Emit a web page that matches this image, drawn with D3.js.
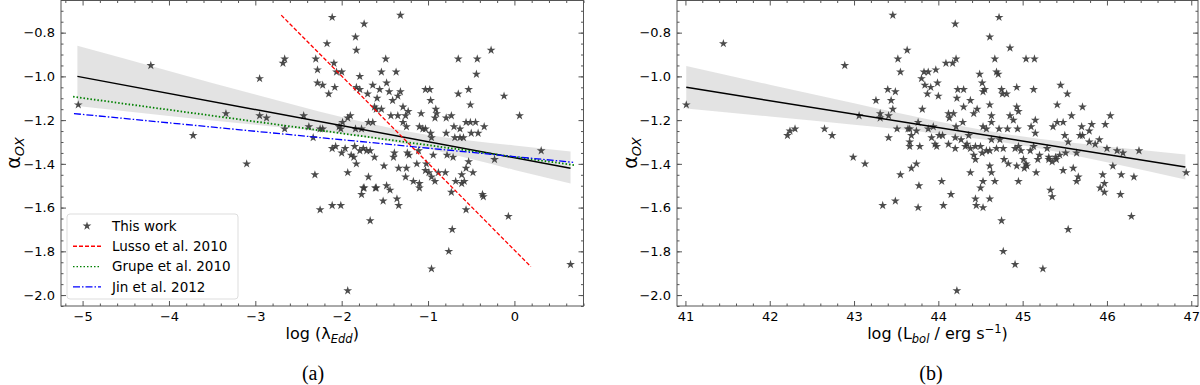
<!DOCTYPE html>
<html>
<head>
<meta charset="utf-8">
<script src="https://cdn.jsdelivr.net/npm/d3@7"></script>
<style>
  body { margin: 0; background: #fff; }
  svg { font-family: "DejaVu Sans", sans-serif; }
</style>
</head>
<body>
<script>
// ---- data ----
// panel (a): log(lambda_Edd) vs alpha_ox
var eddPts = [
  [-5.05,-1.13],[-4.21,-0.95],[-3.72,-1.27],[-3.34,-1.17],[-3.10,-1.40],[-2.95,-1.01],[-2.95,-1.18],[-2.87,-1.19],
  [-2.68,-0.94],[-2.66,-0.92],[-2.66,-1.24],[-2.11,-0.73],[-1.74,-0.76],[-1.32,-0.72],[-1.84,-0.82],[-2.17,-0.85],
  [-1.83,-0.88],[-0.27,-0.88],[-2.30,-0.92],[-2.09,-0.94],[-1.49,-0.92],[-0.65,-0.92],[-0.43,-0.92],[-2.28,-0.97],
  [-2.06,-0.98],[-2.00,-0.98],[-1.54,-0.98],[-1.37,-0.98],[-0.44,-0.99],[-1.79,-1.00],[-2.28,-1.03],[-2.22,-1.04],
  [-2.15,-1.08],[-2.08,-1.05],[-1.83,-1.05],[-1.79,-1.06],[-1.64,-1.04],[-1.70,-1.08],[-1.48,-1.03],[-1.56,-1.06],
  [-1.45,-1.07],[-1.32,-1.07],[-1.03,-1.06],[-0.98,-1.06],[-0.65,-1.08],[-0.53,-1.06],[-0.12,-1.09],[-0.97,-1.11],
  [-1.59,-1.10],[-1.41,-1.11],[-1.35,-1.09],[-0.51,-1.13],[0.06,-1.18],[-1.62,-1.14],[-1.60,-1.15],[-1.54,-1.15],
  [-1.43,-1.18],[-1.35,-1.18],[-1.29,-1.14],[-1.23,-1.16],[-1.26,-1.18],[-1.08,-1.17],[-0.91,-1.15],[-0.90,-1.17],
  [-0.92,-1.19],[-0.79,-1.19],[-0.73,-1.18],[-1.90,-1.18],[-1.93,-1.19],[-2.44,-1.18],[-1.99,-1.21],[-1.69,-1.21],
  [-1.64,-1.21],[-1.29,-1.21],[-1.25,-1.23],[-1.10,-1.23],[-1.06,-1.24],[-1.03,-1.24],[-0.56,-1.21],[-0.45,-1.21],
  [-0.35,-1.23],[-0.70,-1.23],[-0.63,-1.24],[-0.51,-1.21],[-0.50,-1.26],[-0.42,-1.26],[-0.79,-1.26],[-0.69,-1.28],
  [-0.63,-1.28],[-0.59,-1.28],[-0.97,-1.26],[-0.96,-1.28],[-2.38,-1.23],[-2.25,-1.24],[-2.22,-1.24],[-2.33,-1.28],
  [-2.03,-1.23],[-2.01,-1.24],[-1.84,-1.24],[-1.77,-1.24],[-2.11,-1.33],[-2.07,-1.32],[-2.00,-1.35],[-1.89,-1.36],
  [-1.86,-1.37],[-1.96,-1.33],[-1.85,-1.32],[-1.79,-1.34],[-1.75,-1.33],[-1.71,-1.34],[-1.67,-1.34],[-1.62,-1.37],
  [-1.83,-1.40],[-1.93,-1.44],[-2.31,-1.45],[-1.51,-1.41],[-1.40,-1.37],[-1.39,-1.35],[-1.34,-1.42],[-1.25,-1.42],
  [-1.26,-1.46],[-1.17,-1.48],[-1.10,-1.49],[-1.24,-1.35],[-1.22,-1.36],[-1.11,-1.34],[-1.13,-1.40],[-1.02,-1.40],
  [-1.03,-1.43],[-0.99,-1.44],[-0.96,-1.46],[-0.92,-1.48],[-0.88,-1.44],[-0.80,-1.44],[-0.94,-1.36],[-0.78,-1.36],
  [-0.71,-1.37],[-0.68,-1.48],[-0.61,-1.45],[-0.58,-1.48],[-0.56,-1.42],[-0.53,-1.39],[-0.48,-1.44],[-0.73,-1.53],
  [-0.37,-1.54],[-0.36,-1.55],[-0.23,-1.38],[0.31,-1.34],[-1.75,-1.51],[-1.77,-1.54],[-1.69,-1.46],[-1.60,-1.51],
  [-1.48,-1.50],[-1.44,-1.52],[-1.36,-1.56],[-2.25,-1.61],[-2.11,-1.59],[-2.01,-1.59],[-1.74,-1.51],[-1.61,-1.51],
  [-1.52,-1.57],[-1.34,-1.59],[-1.67,-1.66],[-1.10,-1.51],[-0.61,-1.49],[-0.56,-1.61],[-0.72,-1.70],[-0.76,-1.80],
  [-0.96,-1.88],[-1.93,-1.98],[-0.07,-1.64],[0.65,-1.86]
];
// panel (b): log(L_bol) vs alpha_ox
var lbolPts = [
  [41.01,-1.13],[41.45,-0.85],[42.89,-0.95],[42.21,-1.27],[42.24,-1.25],[42.30,-1.24],[42.65,-1.24],[42.74,-1.27],
  [42.99,-1.37],[43.13,-1.40],[43.06,-1.18],[43.26,-1.11],[43.31,-1.17],[43.31,-1.19],[43.41,-1.18],[43.40,-1.06],
  [43.44,-1.11],[43.49,-1.07],[43.46,-1.15],[43.46,-0.72],[43.52,-0.92],[43.55,-0.98],[43.63,-0.88],[43.51,-1.24],
  [43.41,-1.28],[43.55,-1.45],[43.64,-1.24],[43.34,-1.59],[43.49,-1.57],[44.20,-0.76],[44.72,-0.73],[44.61,-0.82],
  [44.85,-0.87],[45.04,-0.92],[45.14,-0.92],[44.67,-0.92],[44.09,-0.94],[44.17,-0.94],[44.21,-0.92],[43.97,-0.97],
  [43.83,-0.98],[43.88,-0.98],[44.49,-0.99],[44.69,-0.98],[44.71,-0.99],[43.80,-1.01],[43.99,-1.03],[43.84,-1.04],
  [43.91,-1.05],[43.87,-1.08],[44.00,-1.09],[44.23,-1.06],[44.30,-1.06],[44.52,-1.03],[44.55,-1.06],[44.53,-1.07],
  [44.75,-1.06],[44.76,-1.08],[44.81,-1.08],[44.93,-1.05],[45.13,-1.06],[45.45,-1.04],[45.53,-1.08],[45.71,-1.14],
  [45.41,-1.13],[45.58,-1.18],[46.04,-1.18],[44.22,-1.10],[44.38,-1.11],[44.30,-1.14],[44.46,-1.15],[44.42,-1.17],
  [44.61,-1.13],[43.81,-1.15],[44.12,-1.17],[44.18,-1.17],[44.13,-1.19],[44.63,-1.18],[44.85,-1.18],[44.93,-1.14],
  [44.95,-1.16],[44.89,-1.20],[45.15,-1.20],[43.76,-1.21],[43.74,-1.25],[43.66,-1.24],[43.88,-1.24],[43.94,-1.23],
  [44.21,-1.23],[44.29,-1.21],[44.53,-1.23],[44.57,-1.24],[44.63,-1.21],[44.72,-1.24],[44.82,-1.24],[44.94,-1.24],
  [45.10,-1.23],[45.36,-1.23],[45.41,-1.21],[45.48,-1.21],[45.70,-1.23],[45.82,-1.22],[45.98,-1.22],[43.68,-1.27],
  [43.92,-1.28],[44.01,-1.27],[44.05,-1.27],[43.96,-1.31],[43.98,-1.32],[44.20,-1.28],[44.36,-1.27],[44.27,-1.29],
  [43.66,-1.30],[43.66,-1.32],[43.78,-1.32],[44.12,-1.31],[44.20,-1.33],[44.32,-1.32],[44.34,-1.31],[44.38,-1.33],
  [44.44,-1.32],[44.42,-1.36],[44.44,-1.38],[44.50,-1.32],[44.52,-1.35],[44.57,-1.34],[44.61,-1.34],[44.63,-1.29],
  [44.73,-1.29],[44.69,-1.33],[44.77,-1.33],[44.78,-1.38],[44.91,-1.33],[44.95,-1.32],[44.98,-1.34],[45.01,-1.38],
  [45.04,-1.40],[45.02,-1.42],[45.05,-1.41],[45.09,-1.34],[45.13,-1.32],[45.15,-1.26],[45.20,-1.36],[45.18,-1.38],
  [45.29,-1.33],[45.31,-1.38],[45.35,-1.39],[45.40,-1.38],[45.44,-1.36],[45.50,-1.27],[45.54,-1.30],[45.51,-1.35],
  [45.64,-1.35],[45.79,-1.30],[45.86,-1.31],[45.91,-1.29],[46.00,-1.33],[46.12,-1.34],[46.19,-1.35],[46.38,-1.34],
  [46.94,-1.44],[46.07,-1.41],[46.32,-1.46],[46.17,-1.45],[45.95,-1.45],[45.97,-1.49],[45.92,-1.51],[45.97,-1.53],
  [46.16,-1.54],[45.60,-1.42],[45.48,-1.43],[45.66,-1.46],[45.64,-1.48],[45.33,-1.52],[45.35,-1.55],[45.16,-1.44],
  [44.95,-1.48],[44.83,-1.40],[44.93,-1.41],[44.61,-1.41],[44.63,-1.44],[44.67,-1.48],[44.53,-1.48],[44.50,-1.51],
  [44.38,-1.44],[44.04,-1.48],[43.74,-1.40],[43.68,-1.42],[43.77,-1.50],[44.15,-1.54],[44.44,-1.56],[44.61,-1.56],
  [43.76,-1.60],[44.06,-1.59],[44.45,-1.59],[44.53,-1.60],[44.75,-1.66],[44.77,-1.80],[44.91,-1.86],[44.22,-1.98],
  [45.24,-1.88],[45.54,-1.70],[46.29,-1.64],[45.79,-1.25],[45.68,-1.27],[45.71,-1.27],[45.39,-1.37],[45.31,-1.37]
];

// fitted lines (end points) and confidence bands
var fitA = [[-5.06, -1.00], [0.65, -1.42]];
var bandAX  = [-5.06, -4, -3, -2, -1.3, -0.5, 0, 0.65];
var bandAHi = [-0.860, -0.975, -1.083, -1.186, -1.247, -1.294, -1.316, -1.343];
var bandALo = [-1.135, -1.181, -1.221, -1.264, -1.307, -1.378, -1.428, -1.490];

var lusso = [[-2.70, -0.72], [0.19, -1.87]];
var grupe = [[-5.11, -1.093], [0.70, -1.406]];
var jin   = [[-5.10, -1.170], [0.68, -1.393]];

var fitB = [[41.01, -1.05], [46.93, -1.414]];
var bandBX  = [41.01, 42, 43, 44, 44.8, 46, 46.93];
var bandBHi = [-0.953, -1.038, -1.123, -1.206, -1.263, -1.321, -1.357];
var bandBLo = [-1.147, -1.184, -1.221, -1.262, -1.303, -1.393, -1.471];

var yTicks = [-2.0, -1.8, -1.6, -1.4, -1.2, -1.0, -0.8];
var xTicksA = [-5, -4, -3, -2, -1, 0];
var xTicksB = [41, 42, 43, 44, 45, 46, 47];

var legendItems = [
  {label: "This work", type: "star"},
  {label: "Lusso et al. 2010", color: "#ff0000", dash: "4,2"},
  {label: "Grupe et al. 2010", color: "#008000", dash: "1.5,2"},
  {label: "Jin et al. 2012", color: "#0000ff", dash: "7,2,1.5,2"}
];

var FONT = "'DejaVu Sans', sans-serif";

var svg = d3.select("body").append("svg")
    .attr("width", 1200)
    .attr("height", 385)
    .style("font-family", FONT);

var plotTop = 0.5, plotBottom = 306;
var y = d3.scaleLinear().domain([-2.05, -0.653]).range([plotBottom, plotTop]);

var star = d3.symbol().type(d3.symbolStar).size(24);

function minorRange(a, b, step) {
    var out = [];
    for (var i = Math.ceil(a / step - 1e-6); i * step <= b + 1e-9; i++) out.push(+(i * step).toFixed(4));
    return out;
}

function drawPanel(x, xTicks, opts) {
    var g = svg.append("g");
    var x0 = x.range()[0], x1 = x.range()[1];
    var xd = x.domain();

    // confidence band
    var band = opts.bandX.map(function(v, i) { return {x: v, lo: opts.bandLo[i], hi: opts.bandHi[i]}; });
    g.append("path")
        .datum(band)
        .attr("fill", "#d9d9d9")
        .attr("fill-opacity", 0.75)
        .attr("d", d3.area()
            .curve(d3.curveMonotoneX)
            .x(function(d) { return x(d.x); })
            .y0(function(d) { return y(d.lo); })
            .y1(function(d) { return y(d.hi); }));

    // stars
    g.selectAll("path.star")
        .data(opts.points)
        .enter().append("path")
        .attr("class", "star")
        .attr("d", star)
        .attr("fill", "#383838")
        .attr("fill-opacity", 0.9)
        .attr("transform", function(d) { return "translate(" + x(d[0]) + "," + y(d[1]) + ")"; });

    var line = d3.line()
        .x(function(d) { return x(d[0]); })
        .y(function(d) { return y(d[1]); });

    opts.lines.forEach(function(l) {
        g.append("path")
            .datum(l.data)
            .attr("fill", "none")
            .attr("stroke", l.color)
            .attr("stroke-width", l.width || 1.4)
            .attr("stroke-dasharray", l.dash || null)
            .attr("d", line);
    });

    // ticks, all pointing inward
    var xMinor = minorRange(xd[0], xd[1], 0.2).filter(function(v) { return Math.abs(v - Math.round(v)) > 1e-6; });
    var yMinor = minorRange(-2.05, -0.653, 0.05);

    function styleAxis(sel) {
        sel.attr("font-family", FONT).attr("font-size", 13);
        sel.select(".domain").remove();
        sel.selectAll(".tick line").attr("stroke", "#555");
        sel.selectAll(".tick text").attr("fill", "#000");
    }

    g.append("g").attr("transform", "translate(0," + plotBottom + ")")
        .call(d3.axisBottom(x).tickValues(xTicks).tickSize(-5).tickPadding(6).tickFormat(d3.format("d")))
        .call(styleAxis);
    g.append("g").attr("transform", "translate(0," + plotBottom + ")")
        .call(d3.axisBottom(x).tickValues(xMinor).tickSize(-2.5).tickFormat(""))
        .call(styleAxis);
    g.append("g").attr("transform", "translate(0," + plotTop + ")")
        .call(d3.axisTop(x).tickValues(xTicks).tickSize(-5).tickFormat(""))
        .call(styleAxis);
    g.append("g").attr("transform", "translate(0," + plotTop + ")")
        .call(d3.axisTop(x).tickValues(xMinor).tickSize(-2.5).tickFormat(""))
        .call(styleAxis);

    g.append("g").attr("transform", "translate(" + x0 + ",0)")
        .call(d3.axisLeft(y).tickValues(yTicks).tickSize(-5).tickPadding(6).tickFormat(d3.format(".1f")))
        .call(styleAxis);
    g.append("g").attr("transform", "translate(" + x0 + ",0)")
        .call(d3.axisLeft(y).tickValues(yMinor).tickSize(-2.5).tickFormat(""))
        .call(styleAxis);
    g.append("g").attr("transform", "translate(" + x1 + ",0)")
        .call(d3.axisRight(y).tickValues(yTicks).tickSize(-5).tickFormat(""))
        .call(styleAxis);
    g.append("g").attr("transform", "translate(" + x1 + ",0)")
        .call(d3.axisRight(y).tickValues(yMinor).tickSize(-2.5).tickFormat(""))
        .call(styleAxis);

    // frame
    g.append("rect")
        .attr("x", x0).attr("y", plotTop)
        .attr("width", x1 - x0).attr("height", plotBottom - plotTop)
        .attr("fill", "none")
        .attr("stroke", "#555")
        .attr("stroke-width", 1);

    // y label  alpha_OX
    var yl = g.append("text")
        .attr("transform", "translate(" + opts.yLabelX + "," + (plotBottom / 2) + ") rotate(-90)")
        .attr("text-anchor", "middle")
        .style("font-size", "19px");
    yl.append("tspan").text("α");
    yl.append("tspan").attr("dy", 4).style("font-size", "13px").style("font-style", "italic").text("OX");

    // x label
    var xl = g.append("text")
        .attr("x", (x0 + x1) / 2)
        .attr("y", 339)
        .attr("text-anchor", "middle")
        .style("font-size", "16px");
    opts.xLabel(xl);

    // caption
    g.append("text")
        .attr("x", opts.captionX)
        .attr("y", 380)
        .attr("text-anchor", "middle")
        .style("font-family", "'Liberation Serif', 'Times New Roman', serif")
        .style("font-size", "20px")
        .text(opts.caption);

    return g;
}

var xA = d3.scaleLinear().domain([-5.25, 0.80]).range([61, 583.5]);
var xB = d3.scaleLinear().domain([40.9, 47.08]).range([677, 1198]);

var gA = drawPanel(xA, xTicksA, {
    points: eddPts,
    bandX: bandAX, bandLo: bandALo, bandHi: bandAHi,
    lines: [
        {data: fitA, color: "#000", width: 1.5},
        {data: lusso, color: "#ff0000", dash: "4,2", width: 1.3},
        {data: grupe, color: "#008000", dash: "1.5,2", width: 1.8},
        {data: jin, color: "#0000ff", dash: "7,2,1.5,2", width: 1.3}
    ],
    yLabelX: 20,
    captionX: 313,
    caption: "(a)",
    xLabel: function(t) {
        t.append("tspan").text("log (λ");
        t.append("tspan").attr("dy", 4).style("font-size", "11.5px").style("font-style", "italic").text("Edd");
        t.append("tspan").attr("dy", -4).text(")");
    }
});

drawPanel(xB, xTicksB, {
    points: lbolPts,
    bandX: bandBX, bandLo: bandBLo, bandHi: bandBHi,
    lines: [{data: fitB, color: "#000", width: 1.5}],
    yLabelX: 637,
    captionX: 931,
    caption: "(b)",
    xLabel: function(t) {
        t.append("tspan").text("log (L");
        t.append("tspan").attr("dy", 4).style("font-size", "11.5px").style("font-style", "italic").text("bol");
        t.append("tspan").attr("dy", -4).text(" / erg s");
        t.append("tspan").attr("dy", -6).style("font-size", "11.5px").text("−1");
        t.append("tspan").attr("dy", 6).text(")");
    }
});

// legend in panel (a)
var leg = gA.append("g").attr("transform", "translate(67,214)");
leg.append("rect")
    .attr("width", 171).attr("height", 85)
    .attr("rx", 3)
    .attr("fill", "#fff").attr("fill-opacity", 0.8)
    .attr("stroke", "#ddd");

var row = leg.selectAll("g.row")
    .data(legendItems)
    .enter().append("g")
    .attr("class", "row")
    .attr("transform", function(d, i) { return "translate(0," + (12 + i * 20.3) + ")"; });

row.each(function(d) {
    var r = d3.select(this);
    if (d.type === "star") {
        r.append("path").attr("d", star).attr("fill", "#383838").attr("fill-opacity", 0.9)
            .attr("transform", "translate(20,0)");
    } else {
        r.append("line")
            .attr("x1", 6).attr("x2", 34)
            .attr("stroke", d.color)
            .attr("stroke-width", 1.4)
            .attr("stroke-dasharray", d.dash);
    }
    r.append("text")
        .attr("x", 45)
        .attr("dy", "0.35em")
        .style("font-size", "13.5px")
        .text(d.label);
});
</script>
</body>
</html>
